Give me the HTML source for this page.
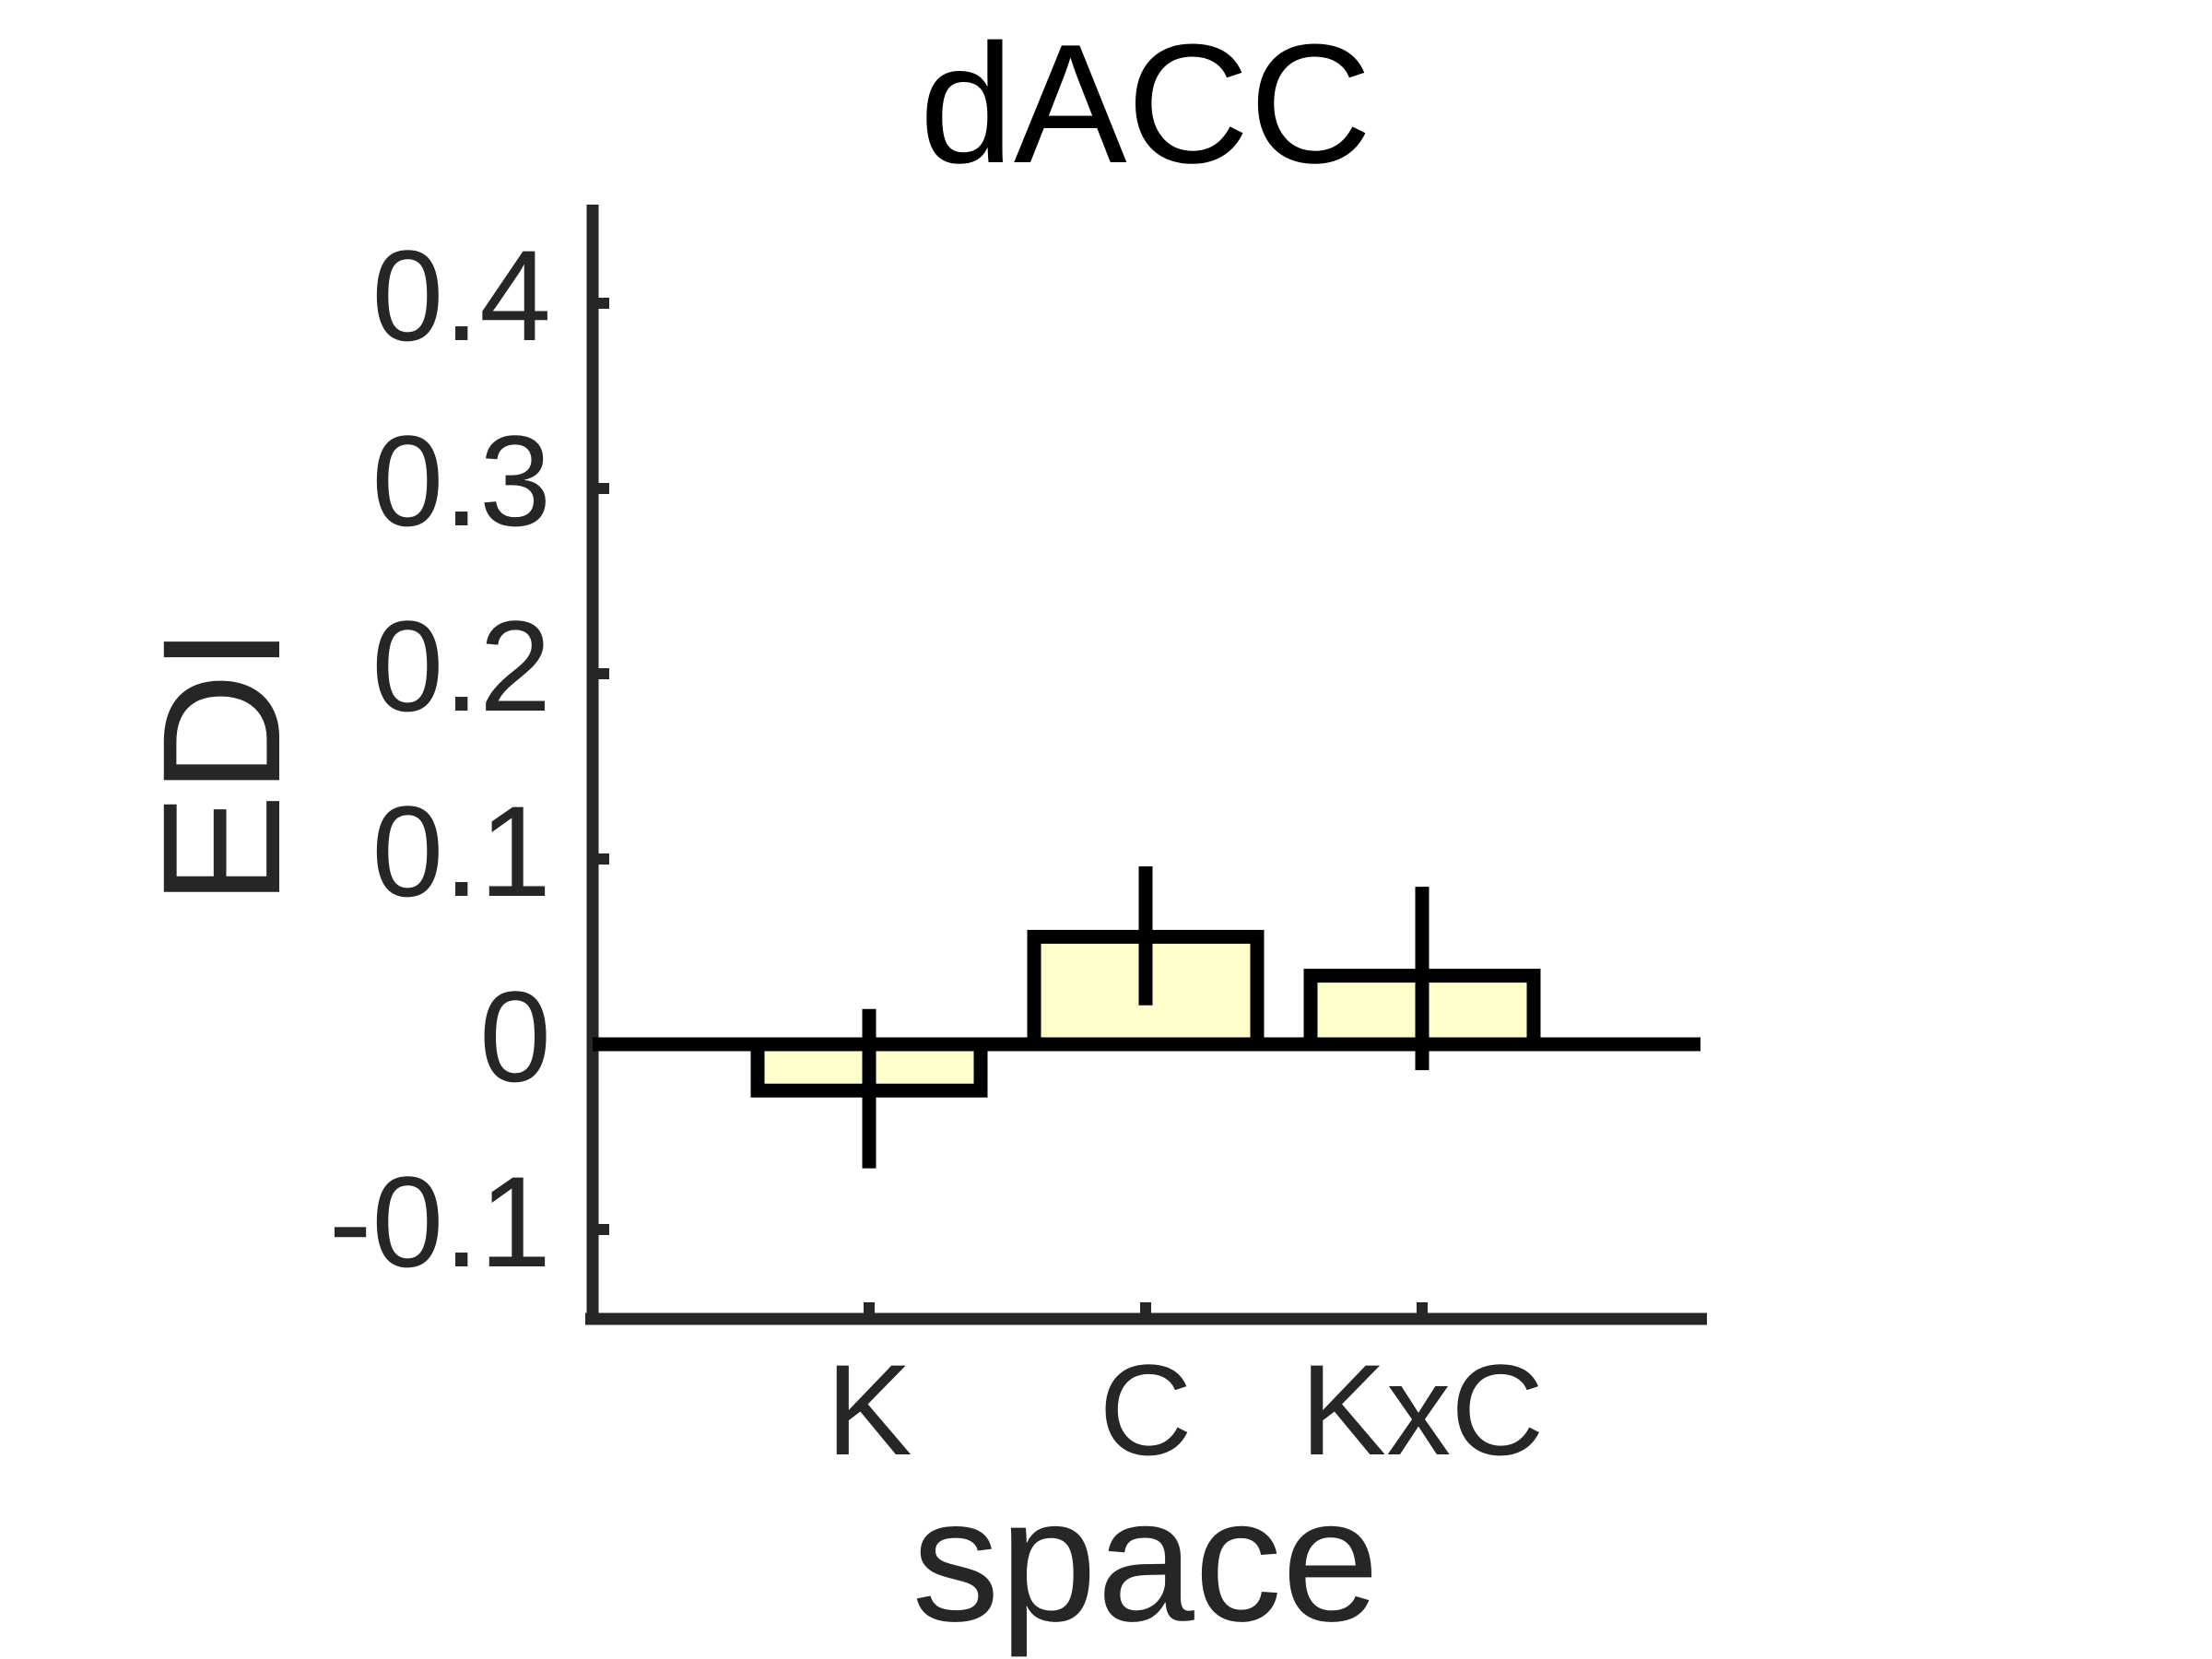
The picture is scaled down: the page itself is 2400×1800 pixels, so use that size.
<!DOCTYPE html>
<html><head><meta charset="utf-8"><style>
html,body{margin:0;padding:0;background:#fff;}
svg{display:block;}
text{font-family:"Liberation Sans",Arial,sans-serif;}
</style></head><body>
<svg id="chart" width="2400" height="1800" viewBox="0 0 2400 1800" xmlns="http://www.w3.org/2000/svg">
<rect width="2400" height="1800" fill="#fff"/>
<text x="1243" y="176" font-size="184" text-anchor="middle" fill="#000">dACC</text>
<text transform="translate(303,831) rotate(-90)" font-size="182" text-anchor="middle" fill="#262626">EDI</text>
<text x="1243" y="1758" font-size="190" text-anchor="middle" fill="#262626">space</text>
<g id="marks"></g>
</svg>
<script>
const categories = ["K", "C", "KxC"];
const values = [-0.025, 0.058, 0.037];
const errHigh = [0.019, 0.096, 0.085];
const errLow = [-0.067, 0.021, -0.014];
const yTicks = [-0.1, 0, 0.1, 0.2, 0.3, 0.4];
const yTickLabels = ["-0.1", "0", "0.1", "0.2", "0.3", "0.4"];

const NS = "http://www.w3.org/2000/svg";
const g = document.getElementById("marks");
const y0px = 1133, pxPerUnit = 2010;
function yScale(v){ return y0px - v * pxPerUnit; }
function xScale(i){ return 943 + i * 300; }
const axisX = 643, axisY = 1431, barW = 242, sw = 15;
function mk(tag, attrs){ const e = document.createElementNS(NS, tag); for (const k in attrs) e.setAttribute(k, attrs[k]); g.appendChild(e); return e; }

let e;
e = mk("line", {x1: axisX, y1: 222, x2: axisX, y2: axisY + 6, stroke: "#262626", "stroke-width": 13});


e = mk("line", {x1: 635, y1: axisY, x2: 1852, y2: axisY, stroke: "#262626", "stroke-width": 13});



yTicks.forEach((t, i) => {
  const y = yScale(t);
  const tk = mk("line", {x1: axisX, y1: y, x2: axisX + 18, y2: y, stroke: "#262626", "stroke-width": 12});
  
  
  const lb = mk("text", {x: 598, y: y + 40, "font-size": 140, "text-anchor": "end", fill: "#262626"});
  lb.textContent = yTickLabels[i];
  
  
});

e = mk("line", {x1: axisX, y1: yScale(0), x2: 1845, y2: yScale(0), stroke: "#000", "stroke-width": sw});



categories.forEach((c, i) => {
  const x = xScale(i);
  const yv = yScale(values[i]), yz = yScale(0);
  const b = mk("rect", {x: x - barW/2, y: Math.min(yv, yz), width: barW, height: Math.abs(yz - yv), fill: "#ffffcc", stroke: "#000", "stroke-width": sw});
  
  
  const er = mk("line", {x1: x, y1: yScale(errHigh[i]), x2: x, y2: yScale(errLow[i]), stroke: "#000", "stroke-width": sw});
  
  
  const tk = mk("line", {x1: x, y1: axisY, x2: x, y2: axisY - 18, stroke: "#262626", "stroke-width": 12});
  
  
  const lb = mk("text", {x: x, y: 1578, "font-size": 140, "text-anchor": "middle", fill: "#262626"});
  lb.textContent = c;
  
  
});
</script>
</body></html>
